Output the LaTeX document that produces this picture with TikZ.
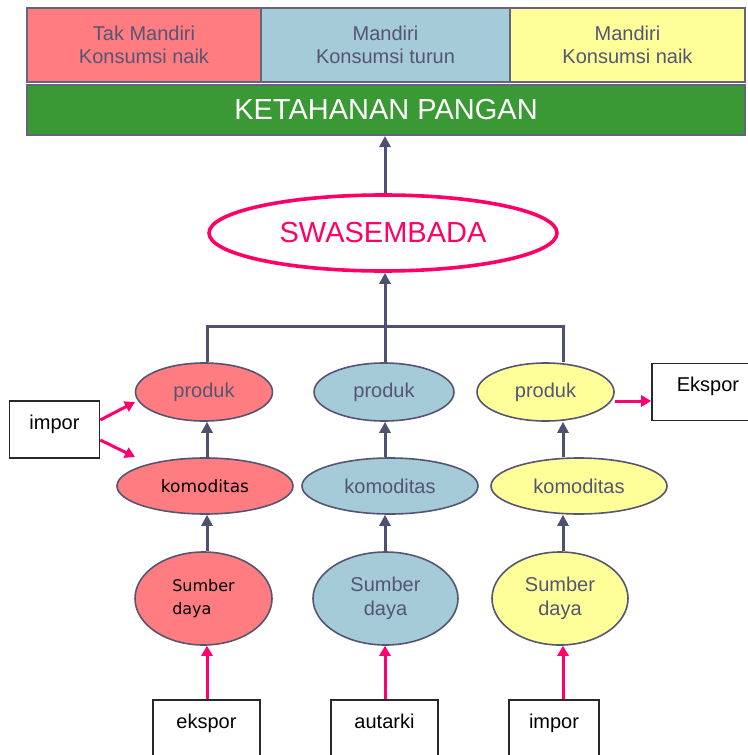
\documentclass[tikz,border=0pt]{standalone}
\usepackage{fontspec}
\setmainfont{Liberation Sans}
\newfontfamily\verd{DejaVu Sans}
\usetikzlibrary{shapes.geometric,arrows.meta}

\begin{document}
\begin{tikzpicture}[x=0.5pt,y=-0.5pt,
    band/.style={draw={rgb,255:red,100;green,100;blue,125},line width=1pt,minimum height=37pt,align=center,
        text={rgb,255:red,85;green,85;blue,115},font=\fontsize{10}{11.5}\selectfont},
    oval/.style={ellipse,draw={rgb,255:red,85;green,85;blue,115},line width=0.8pt,inner sep=0pt,align=center,
        text={rgb,255:red,85;green,85;blue,115},font=\fontsize{10}{12}\selectfont},
    redfill/.style={fill={rgb,255:red,255;green,125;blue,128}},
    bluefill/.style={fill={rgb,255:red,165;green,202;blue,216}},
    yelfill/.style={fill={rgb,255:red,255;green,255;blue,153}},
    link/.style={draw={rgb,255:red,80;green,80;blue,112},line width=1.5pt},
    arrup/.style={link,-{Triangle[width=5.5pt,length=5.5pt]}},
    pinkarr/.style={draw={rgb,255:red,255;green,0;blue,110},line width=1.5pt,-{Triangle[width=5.5pt,length=5pt]}},
    tradebox/.style={draw={rgb,255:red,40;green,40;blue,40},line width=0.8pt,text height=8pt,text depth=8.5pt,inner sep=6pt,font=\fontsize{10}{12}\selectfont}
]
    \useasboundingbox (0,0) rectangle (748,755);

    % top row
    \node[band,redfill,minimum width=117pt] (tr) at (144,45) {Tak Mandiri\\Konsumsi naik};
    \node[band,bluefill,minimum width=124.5pt] (tb) at (385.5,45) {Mandiri\\Konsumsi turun};
    \node[band,yelfill,minimum width=117.5pt] (ty) at (627.5,45) {Mandiri\\Konsumsi naik};
    \node[band,fill={rgb,255:red,58;green,153;blue,52},minimum width=359pt,minimum height=25pt,text=white,
        font=\fontsize{14.5}{16}\selectfont] (kp) at (386,110) {KETAHANAN PANGAN};

    \node[ellipse,draw={rgb,255:red,255;green,0;blue,102},line width=1.8pt,minimum width=174pt,minimum height=38pt,
        inner sep=0pt,text={rgb,255:red,255;green,0;blue,102},font=\fontsize{14.5}{16}\selectfont] (sw) at (383,233) {SWASEMBADA};

    % columns
    \coordinate (cr) at (207,326);
    \coordinate (cb) at (385,326);
    \coordinate (cy) at (563,326);

    \node[oval,redfill,minimum width=68.5pt,minimum height=29pt] (pr) at (204,392) {produk};
    \node[oval,bluefill,minimum width=70pt,minimum height=29pt] (pb) at (384,392) {produk};
    \node[oval,yelfill,minimum width=68.5pt,minimum height=29pt] (py) at (545.5,392) {produk};

    \node[oval,redfill,minimum width=88pt,minimum height=28pt,text=black,font=\verd\fontsize{8.5}{10}\selectfont] (kr) at (205,486) {komoditas};
    \node[oval,bluefill,minimum width=88pt,minimum height=28pt] (kb) at (390,486) {komoditas};
    \node[oval,yelfill,minimum width=88pt,minimum height=28pt] (ky) at (579,486) {komoditas};

    \node[oval,redfill,minimum width=68.5pt,minimum height=46.5pt,text=black,align=left,font=\verd\fontsize{8}{11.5}\selectfont] (sr) at (203.5,598.5) {Sumber\\daya};
    \node[oval,bluefill,minimum width=72.5pt,minimum height=46.5pt] (sb) at (385.5,598.5) {Sumber\\daya};
    \node[oval,yelfill,minimum width=68pt,minimum height=46.5pt] (sy) at (560,598.5) {Sumber\\daya};

    \draw[link] (pr.north -| cr) -- (cr) -- (cy) -- (py.north -| cy);
    \draw[link] (pb.north -| cb) -- (cb);
    \draw[arrup] (cb) -- (sw.south -| cb);
    \draw[arrup] (sw.north -| cb) -- (kp.south -| cb);

    \foreach \c/\p/\k/\s in {cr/pr/kr/sr, cb/pb/kb/sb, cy/py/ky/sy}{
        \draw[arrup] (\k.north -| \c) -- (\p.south -| \c);
        \draw[arrup] (\s.north -| \c) -- (\k.south -| \c);
    }

    % trade boxes
    \node[tradebox,text depth=20pt,minimum width=53.5pt] (be) at (206.5,740) {ekspor};
    \node[tradebox,text depth=20pt,minimum width=53.5pt] (ba) at (384.5,740) {autarki};
    \node[tradebox,text depth=20pt,minimum width=45pt] (bi) at (554,740) {impor};
    \draw[pinkarr] (be.north -| cr) -- (sr.south -| cr);
    \draw[pinkarr] (ba.north -| cb) -- (sb.south -| cb);
    \draw[pinkarr] (bi.north -| cy) -- (sy.south -| cy);

    \node[tradebox,minimum width=45pt] (li) at (54.5,429.5) {impor};
    \coordinate (lp) at (135,402);
    \coordinate (lk) at (135,457);
    \draw[pinkarr] ([yshift=4.75pt]li.east) -- (lp);
    \draw[pinkarr] ([yshift=-5.25pt]li.east) -- (lk);

    \node[tradebox,minimum width=56pt] (re) at (708,392) {Ekspor};
    \draw[pinkarr] ([yshift=-4.5pt]py.east) -- ([yshift=-4.5pt]re.west);
\end{tikzpicture}
\end{document}
